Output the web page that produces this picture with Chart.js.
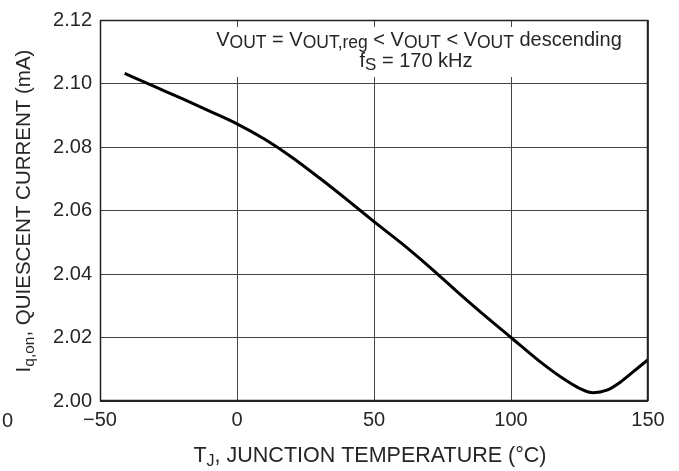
<!DOCTYPE html>
<html>
<head>
<meta charset="utf-8">
<script src="https://cdn.jsdelivr.net/npm/chart.js@4"></script>
<style>
  html, body { margin: 0; padding: 0; background: #fff; }
  #wrap { width: 679px; height: 471px; }
</style>
</head>
<body>
<div id="wrap"><canvas id="chart"></canvas></div>
<script>
// junction temperature (°C)
const temps = [-41, -30, -20, -10, 0, 10, 20, 30, 40, 50, 60, 70, 80, 90, 100, 110, 120, 125, 130, 135, 140, 145, 150];
// quiescent current (mA)
const current = [2.1032, 2.0990, 2.0952, 2.0913, 2.0873, 2.0825, 2.0768, 2.0703, 2.0635, 2.0565, 2.0497, 2.0424, 2.0347, 2.0272, 2.0200, 2.0128, 2.0065, 2.0040, 2.0026, 2.0034, 2.0060, 2.0095, 2.0130];
const xTicks = [-50, 0, 50, 100, 150];
const yTicks = [2.00, 2.02, 2.04, 2.06, 2.08, 2.10, 2.12];

const FONT = "Liberation Sans, Arial, sans-serif";

// draw a run of text pieces, some of them as subscripts
function richText(ctx, parts, x, y, align, size, subSize, shift) {
  let total = 0;
  parts.forEach(p => {
    ctx.font = (p.sub ? subSize : size) + "px " + FONT;
    total += ctx.measureText(p.t).width;
  });
  let cx = align === "center" ? x - total / 2 : x;
  parts.forEach(p => {
    ctx.font = (p.sub ? subSize : size) + "px " + FONT;
    ctx.fillText(p.t, cx, y + (p.sub ? shift : 0));
    cx += ctx.measureText(p.t).width;
  });
}

const labelsPlugin = {
  id: "labels",
  beforeDatasetsDraw(chart) {
    const { ctx, chartArea } = chart;
    // white box behind the conditions text
    ctx.save();
    ctx.fillStyle = "#fff";
    ctx.fillRect(204, 27, chartArea.right - 206, 50);
    ctx.restore();
  },
  afterDraw(chart) {
    const { ctx, chartArea } = chart;
    ctx.save();
    ctx.fillStyle = "#262626";
    ctx.textAlign = "left";
    ctx.textBaseline = "alphabetic";

    richText(ctx, [
      { t: "V" }, { t: "OUT", sub: true }, { t: " = V" }, { t: "OUT,reg", sub: true },
      { t: " < V" }, { t: "OUT", sub: true }, { t: " < V" }, { t: "OUT", sub: true },
      { t: " descending" }
    ], 419, 46, "center", 20, 17.5, 2);
    richText(ctx, [{ t: "f" }, { t: "S", sub: true }, { t: " = 170 kHz" }], 416, 67, "center", 20, 17, 3);

    // x axis title
    richText(ctx, [
      { t: "T" }, { t: "J", sub: true }, { t: ", JUNCTION TEMPERATURE (°C)" }
    ], 370, 462, "center", 21.5, 16, 4);

    // y axis title, rotated
    ctx.save();
    ctx.translate(30, 211);
    ctx.rotate(-Math.PI / 2);
    richText(ctx, [
      { t: "I" }, { t: "q,on", sub: true }, { t: ", QUIESCENT CURRENT (mA)" }
    ], 0, 0, "center", 20.5, 15.5, 4);
    ctx.restore();

    // stray label at far left
    ctx.font = "20px " + FONT;
    ctx.fillText("0", 2, 427);

    // frame
    ctx.strokeStyle = "#222";
    ctx.lineWidth = 1.5;
    ctx.strokeRect(chartArea.left + 0.5, chartArea.top + 0.5, chartArea.width - 1, chartArea.height - 1);
    ctx.lineWidth = 2;
    ctx.beginPath();
    ctx.moveTo(chartArea.left, chartArea.bottom);
    ctx.lineTo(chartArea.right, chartArea.bottom);
    ctx.stroke();
    ctx.restore();
  }
};

new Chart(document.getElementById("chart"), {
  type: "line",
  data: {
    datasets: [{
      data: temps.map((t, i) => ({ x: t, y: current[i] })),
      borderColor: "#000",
      borderWidth: 3,
      pointRadius: 0,
      cubicInterpolationMode: "monotone",
      fill: false
    }]
  },
  options: {
    responsive: true,
    maintainAspectRatio: false,
    animation: false,
    layout: { padding: { left: 0, right: 31, top: 18, bottom: 0 } },
    plugins: { legend: { display: false }, tooltip: { enabled: false } },
    scales: {
      x: {
        type: "linear",
        min: -50,
        max: 150,
        afterBuildTicks: s => { s.ticks = xTicks.map(v => ({ value: v })); },
        afterFit: s => { s.height = 70; },
        grid: { color: "#444", lineWidth: 1, drawTicks: false },
        border: { display: false },
        ticks: {
          color: "#262626",
          padding: 7,
          maxRotation: 0,
          font: { family: FONT, size: 20 },
          callback: v => (v < 0 ? "\u2212" + Math.abs(v) : String(v))
        }
      },
      y: {
        min: 2.00,
        max: 2.12,
        afterBuildTicks: s => { s.ticks = yTicks.map(v => ({ value: v })); },
        afterFit: s => { s.width = 100; },
        grid: { color: "#444", lineWidth: 1, drawTicks: false },
        border: { display: false },
        ticks: {
          color: "#262626",
          padding: 8,
          font: { family: FONT, size: 20 },
          callback: v => v.toFixed(2)
        }
      }
    }
  },
  plugins: [labelsPlugin]
});
</script>
</body>
</html>
